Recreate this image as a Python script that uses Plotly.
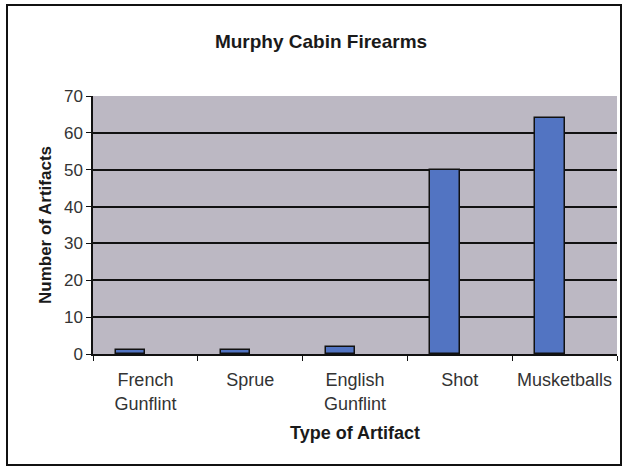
import plotly.graph_objects as go

# Data
categories = ["French<br>Gunflint", "Sprue", "English<br>Gunflint", "Shot", "Musketballs"]
counts = [1, 1, 2, 50, 64]
y_ticks = [0, 10, 20, 30, 40, 50, 60, 70]

fig = go.Figure()
fig.add_trace(go.Bar(
    x=categories,
    y=counts,
    width=0.28,
    offset=-0.28,
    marker=dict(color="#5274c2", line=dict(color="#111111", width=1.5)),
))

fig.update_layout(
    width=623,
    height=468,
    margin=dict(l=93, r=6, t=96, b=114),
    paper_bgcolor="white",
    plot_bgcolor="#bcb8c3",
    showlegend=False,
    font=dict(family="Liberation Sans, Arial, sans-serif", color="#333333", size=17),
    title=dict(
        text="<b>Murphy Cabin Firearms</b>",
        x=321 / 623, xanchor="center",
        y=1 - 41 / 468, yanchor="middle",
        font=dict(size=19, color="#1a1a1a"),
    ),
    bargap=0,
)

fig.update_xaxes(
    tickson="boundaries",
    ticks="outside",
    ticklen=5,
    tickcolor="#111111",
    tickfont=dict(size=18),
    ticklabelstandoff=9,
    showline=True,
    linecolor="#111111",
    linewidth=1.5,
    showgrid=False,
    title=dict(text="<b>Type of Artifact</b>", font=dict(size=18, color="#1a1a1a"), standoff=14),
)
fig.update_yaxes(
    range=[0, 70],
    tickvals=y_ticks,
    ticks="outside",
    ticklen=5,
    tickcolor="#111111",
    showline=True,
    linecolor="#111111",
    linewidth=1.5,
    gridcolor="#111111",
    gridwidth=1.5,
    zeroline=False,
    title=dict(text="<b>Number of Artifacts</b>", font=dict(size=17, color="#1a1a1a"), standoff=8),
)

# outer chart border
fig.add_shape(
    type="rect", xref="paper", yref="paper",
    x0=(7 - 93) / 524, x1=(621 - 93) / 524,
    y0=(354 - 465) / 258, y1=(354 - 5) / 258,
    line=dict(color="#111111", width=2),
    layer="below",
)

fig.write_html(
    "out.html",
    config={"displayModeBar": False},
    post_script="document.body.style.margin='0';",
)
